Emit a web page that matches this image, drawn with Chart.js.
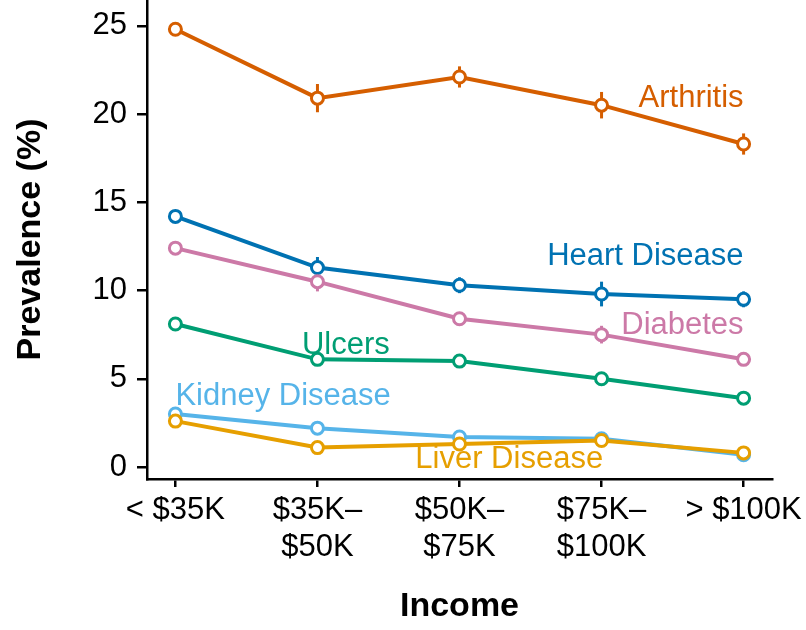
<!DOCTYPE html>
<html>
<head>
<meta charset="utf-8">
<script src="https://cdn.jsdelivr.net/npm/chart.js@4.4.1/dist/chart.umd.min.js"></script>
<style>
  body { margin: 0; background: #fff; }
  #wrap { width: 806px; height: 630px; }
</style>
</head>
<body>
<div id="wrap"><canvas id="chart" width="806" height="630"></canvas></div>
<script>
// Income groups (x axis)
const incomeLabels = [['< $35K'], ['$35K\u2013', '$50K'], ['$50K\u2013', '$75K'], ['$75K\u2013', '$100K'], ['> $100K']];
const yTicks = [0, 5, 10, 15, 20, 25];

// Prevalence (%) by income
const arthritis = [24.8, 20.9, 22.1, 20.5, 18.3];
const heartDisease = [14.2, 11.3, 10.3, 9.8, 9.5];
const diabetes = [12.4, 10.5, 8.4, 7.5, 6.1];
const ulcers = [8.1, 6.1, 6.0, 5.0, 3.9];
const kidneyDisease = [3.0, 2.2, 1.7, 1.6, 0.7];
const liverDisease = [2.6, 1.1, 1.3, 1.5, 0.8];

// Error bar half-widths
const arthritisErr = [0.3, 0.8, 0.6, 0.75, 0.6];
const heartErr = [0.3, 0.6, 0.45, 0.7, 0.45];
const diabetesErr = [0.3, 0.55, 0.3, 0.5, 0.3];
const ulcersErr = [0.2, 0.3, 0.25, 0.25, 0.25];
const kidneyErr = [0.2, 0.2, 0.2, 0.2, 0.2];
const liverErr = [0.2, 0.2, 0.2, 0.2, 0.2];

const series = [
  { name: 'Arthritis', values: arthritis, err: arthritisErr, color: '#D55E00', lx: 4.0, ly: 20.9, align: 'right' },
  { name: 'Heart Disease', values: heartDisease, err: heartErr, color: '#0072B2', lx: 4.0, ly: 11.95, align: 'right' },
  { name: 'Diabetes', values: diabetes, err: diabetesErr, color: '#CC79A7', lx: 4.0, ly: 8.0, align: 'right' },
  { name: 'Ulcers', values: ulcers, err: ulcersErr, color: '#009E73', lx: 1.2, ly: 6.9, align: 'center' },
  { name: 'Kidney Disease', values: kidneyDisease, err: kidneyErr, color: '#56B4E9', lx: 0.0, ly: 3.97, align: 'left' },
  { name: 'Liver Disease', values: liverDisease, err: liverErr, color: '#E69F00', lx: 2.35, ly: 0.45, align: 'center' }
];

const datasets = series.map((s, i) => ({
  label: s.name,
  data: s.values.map((v, k) => ({ x: k, y: v })),
  borderColor: s.color,
  backgroundColor: '#fff',
  borderWidth: 4,
  pointRadius: 6,
  pointBorderWidth: 3,
  pointBackgroundColor: '#fff',
  pointBorderColor: s.color,
  tension: 0,
  order: series.length - i
}));

// error bars under the lines, series labels on top
const extras = {
  id: 'extras',
  beforeDatasetsDraw(chart) {
    const { ctx, scales: { x, y } } = chart;
    ctx.save();
    ctx.lineWidth = 3;
    series.forEach(s => {
      ctx.strokeStyle = s.color;
      s.values.forEach((v, k) => {
        const px = x.getPixelForValue(k);
        ctx.beginPath();
        ctx.moveTo(px, y.getPixelForValue(v - s.err[k]));
        ctx.lineTo(px, y.getPixelForValue(v + s.err[k]));
        ctx.stroke();
      });
    });
    ctx.restore();
  },
  afterDatasetsDraw(chart) {
    const { ctx, scales: { x, y } } = chart;
    ctx.save();
    ctx.font = '31px "Liberation Sans", Arial, sans-serif';
    ctx.textBaseline = 'middle';
    series.forEach(s => {
      ctx.fillStyle = s.color;
      ctx.textAlign = s.align;
      ctx.fillText(s.name, x.getPixelForValue(s.lx), y.getPixelForValue(s.ly));
    });
    ctx.restore();
  }
};

const tickFont = { family: '"Liberation Sans", Arial, sans-serif', size: 31, lineHeight: 1.2 };
const titleFont = { family: '"Liberation Sans", Arial, sans-serif', size: 34, weight: 'bold' };

new Chart(document.getElementById('chart'), {
  type: 'line',
  data: { datasets },
  options: {
    responsive: false,
    animation: false,
    layout: { autoPadding: false, padding: { top: 0, right: 34, bottom: 0, left: 0 } },
    plugins: { legend: { display: false }, tooltip: { enabled: false } },
    scales: {
      x: {
        type: 'linear',
        min: -0.2,
        max: 4.2,
        afterBuildTicks: sc => { sc.ticks = incomeLabels.map((_, i) => ({ value: i })); },
        afterFit: sc => { sc.height = 151; sc.paddingLeft = 0; sc.paddingRight = 0; },
        ticks: {
          color: '#000',
          font: tickFont,
          padding: 5,
          maxRotation: 0,
          autoSkip: false,
          callback: v => incomeLabels[v]
        },
        grid: { drawOnChartArea: false, drawTicks: true, tickLength: 8, color: '#000', lineWidth: 2.5 },
        border: { display: true, color: '#000', width: 2.5 },
        title: { display: true, text: 'Income', color: '#000', font: titleFont, padding: { top: 10, bottom: 3 } }
      },
      y: {
        type: 'linear',
        min: -0.68,
        max: 26.46,
        afterBuildTicks: sc => { sc.ticks = yTicks.map(v => ({ value: v })); },
        afterFit: sc => { sc.width = 147; sc.paddingTop = 0; sc.paddingBottom = 0; },
        ticks: { color: '#000', font: tickFont, padding: 10 },
        grid: { drawOnChartArea: false, drawTicks: true, tickLength: 10, color: '#000', lineWidth: 2.5 },
        border: { display: true, color: '#000', width: 2.5 },
        title: { display: true, text: 'Prevalence (%)', color: '#000', font: titleFont, padding: { top: 10, bottom: 0 } }
      }
    }
  },
  plugins: [extras]
});
</script>
</body>
</html>
